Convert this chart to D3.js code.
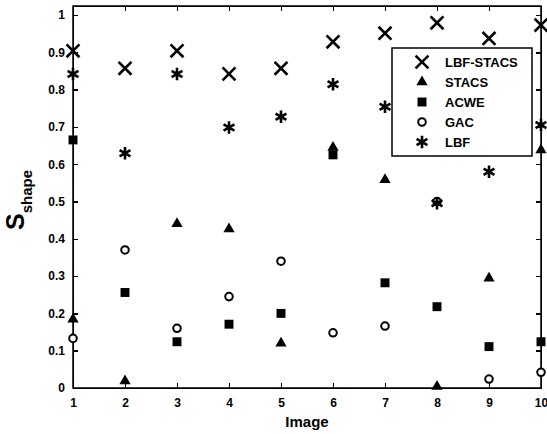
<!doctype html>
<html>
<head>
  <style type="text/css">
    body { margin: 0; background: #fff; }
    svg { display: block; background: #fff; }
    text { font-family: "Liberation Sans", Arial, sans-serif; font-weight: bold; fill: #000; }
    .axis path, .axis line { fill: none; stroke: #000; stroke-width: 1.5; shape-rendering: crispEdges; }
    .axis text { font-size: 12px; }
  </style>
  <title>Shape scores</title>
</head>
<body>
<svg class="chart"></svg>

<script type="text/javascript" src="https://cdnjs.cloudflare.com/ajax/libs/d3/7.8.5/d3.min.js"></script>
<script type="text/javascript">

// image index 1..10
var images = [1, 2, 3, 4, 5, 6, 7, 8, 9, 10];
var yTicks = [0, 0.1, 0.2, 0.3, 0.4, 0.5, 0.6, 0.7, 0.8, 0.9, 1];

var lbfStacs = [0.904, 0.857, 0.904, 0.842, 0.857, 0.928, 0.951, 0.979, 0.937, 0.973];
var stacs    = [0.184, 0.019, 0.440, 0.426, 0.120, 0.645, 0.558, 0.004, 0.294, 0.638];
var acwe     = [0.665, 0.256, 0.124, 0.171, 0.200, 0.625, 0.282, 0.218, 0.111, 0.124];
var gac      = [0.133, 0.370, 0.160, 0.245, 0.340, 0.148, 0.166, 0.500, 0.024, 0.042];
var lbf      = [0.842, 0.629, 0.842, 0.698, 0.727, 0.814, 0.754, 0.495, 0.580, 0.705];

var seriesNames = ["LBF-STACS", "STACS", "ACWE", "GAC", "LBF"];
var seriesValues = [lbfStacs, stacs, acwe, gac, lbf];

var width = 547, height = 434,
    margin = { top: 6, right: 6, bottom: 46, left: 73 },
    w = width - margin.left - margin.right,
    h = height - margin.top - margin.bottom;

var svg = d3.select(".chart")
  .attr("width", width)
  .attr("height", height);

var chart = svg.append("g")
  .attr("transform", "translate(" + margin.left + "," + margin.top + ")");

var x = d3.scaleLinear().domain([1, 10]).range([0, w]);
var y = d3.scaleLinear().domain([0, 1.024]).range([h, 0]);

// matlab style box with inward ticks on all four sides
chart.append("g")
  .attr("class", "axis")
  .attr("transform", "translate(0," + h + ")")
  .call(d3.axisBottom(x).tickValues(images).tickSizeInner(-5).tickSizeOuter(0).tickPadding(10).tickFormat(d3.format("d")));

chart.append("g")
  .attr("class", "axis")
  .call(d3.axisTop(x).tickValues(images).tickSizeInner(-5).tickSizeOuter(0).tickFormat(""));

chart.append("g")
  .attr("class", "axis")
  .call(d3.axisLeft(y).tickValues(yTicks).tickSizeInner(-5).tickSizeOuter(0).tickPadding(8).tickFormat(function(d) { return d === 0 || d === 1 ? d : d.toFixed(1); }));

chart.append("g")
  .attr("class", "axis")
  .attr("transform", "translate(" + w + ",0)")
  .call(d3.axisRight(y).tickValues(yTicks).tickSizeInner(-5).tickSizeOuter(0).tickFormat(""));

chart.append("rect")
  .attr("width", w).attr("height", h)
  .attr("fill", "none").attr("stroke", "#000").attr("stroke-width", 1.5);

// marker styles per series
var markers = [
  { type: d3.symbolTimes, size: 110, fill: "none", stroke: 2.6 },
  { type: d3.symbolTriangle, size: 55, fill: "#000", stroke: 0 },
  { type: d3.symbolSquare, size: 80, fill: "#000", stroke: 0 },
  { type: d3.symbolCircle, size: 45, fill: "#fff", stroke: 2 },
  { type: d3.symbolAsterisk, size: 110, fill: "none", stroke: 2.6 }
];

function drawMarker(sel, m) {
  sel.attr("d", d3.symbol().type(m.type).size(m.size))
    .attr("fill", m.fill)
    .attr("stroke", "#000")
    .attr("stroke-width", m.stroke);
}

var points = chart.append("g");

seriesValues.forEach(function(vals, i) {
  var m = markers[i];
  points.append("g").selectAll("path")
    .data(vals)
    .enter().append("path")
    .attr("transform", function(d, j) { return "translate(" + x(images[j]) + "," + y(d) + ")"; })
    .call(drawMarker, m);
});

// legend
var legend = chart.append("g")
  .attr("transform", "translate(" + (392 - margin.left) + "," + (48 - margin.top) + ")");

legend.append("rect")
  .attr("width", 140).attr("height", 108)
  .attr("fill", "#fff").attr("stroke", "#000").attr("stroke-width", 1.5);

seriesNames.forEach(function(name, i) {
  var row = legend.append("g").attr("transform", "translate(0," + (14 + i * 20) + ")");
  row.append("path")
    .attr("transform", "translate(30,0)")
    .call(drawMarker, markers[i]);
  row.append("text")
    .attr("x", 53).attr("dy", "0.35em")
    .style("font-size", "13px")
    .text(name);
});

// axis titles
svg.append("text")
  .attr("x", margin.left + w / 2)
  .attr("y", 427)
  .attr("text-anchor", "middle")
  .style("font-size", "15px")
  .text("Image");

var ylab = svg.append("text")
  .attr("transform", "translate(24,200) rotate(-90)")
  .attr("text-anchor", "middle");
ylab.append("tspan").style("font-size", "25px").text("S");
ylab.append("tspan").attr("dy", 8).style("font-size", "15px").text("shape");

</script>
</body>
</html>
